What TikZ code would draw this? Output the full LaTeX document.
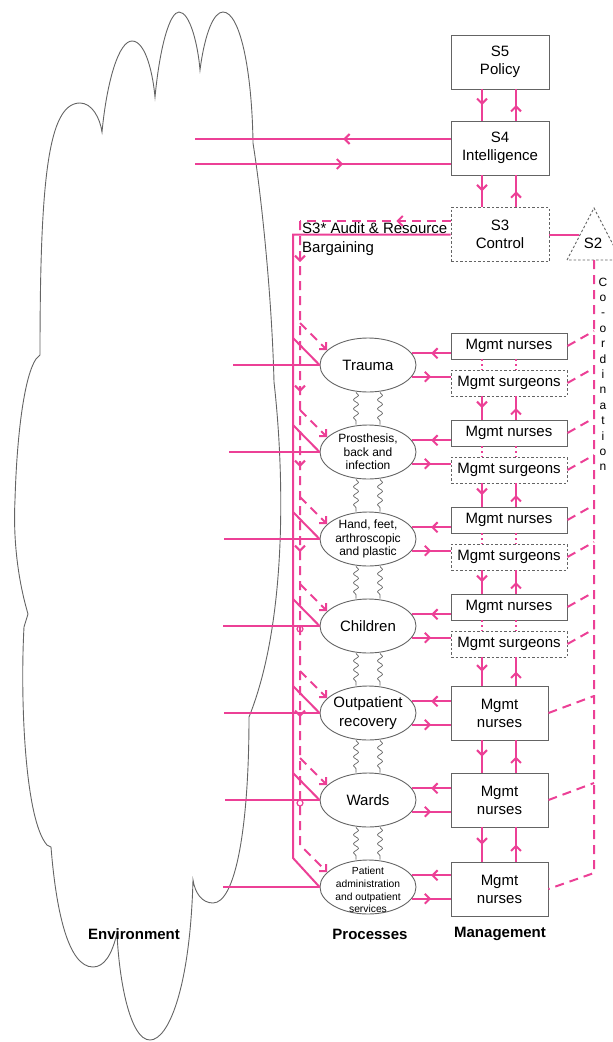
\documentclass[tikz,border=0pt]{standalone}
\usepackage{fontspec}
\setmainfont{Liberation Sans}
\usetikzlibrary{shapes.geometric,decorations.pathmorphing,decorations.markings,arrows.meta}
\definecolor{vsmpink}{RGB}{236,64,150}
\definecolor{vsmgrey}{RGB}{100,100,100}
\newcommand{\fsbig}{\fontsize{15}{18}\selectfont}
\newcommand{\fsmid}{\fontsize{12}{13.5}\selectfont}
\newcommand{\fssml}{\fontsize{10.3}{12.7}\selectfont}
\tikzset{
  >={Straight Barb[length=5pt,width=10pt]},
  sistema/.style = {rectangle, draw=vsmgrey, line width=0.9pt, minimum width=98pt, minimum height=54pt, inner sep=0, align=center, font=\fsbig},
  sistd/.style   = {sistema, dash pattern=on 2.5pt off 2pt},
  mgmt/.style    = {rectangle, draw=vsmgrey, line width=0.9pt, minimum width=116pt, minimum height=26pt, inner sep=0, font=\fsbig},
  mgmtd/.style   = {mgmt, dash pattern=on 2.5pt off 2pt},
  tri/.style     = {draw=vsmgrey, line width=0.9pt, dash pattern=on 2.5pt off 2pt},
  proc/.style    = {ellipse, draw=vsmgrey, line width=0.9pt, minimum width=96pt, minimum height=54pt, inner sep=0},
  ptxt/.style    = {align=center, inner sep=0},
  flow/.style    = {draw=vsmpink, line width=2pt},
  audit/.style   = {flow, dash pattern=on 9pt off 6pt},
  dots/.style    = {flow, dash pattern=on 2pt off 3pt},
  midarr/.style  = {postaction={decorate, decoration={markings, mark=at position #1 with {\arrow{>}}}}},
  midarr/.default = 0.5,
  downs/.style   = {postaction={decorate, decoration={markings,
      mark=at position 41pt with {\arrow{>}}, mark=at position 171pt with {\arrow{>}},
      mark=at position 246pt with {\arrow{>}}, mark=at position 331pt with {\arrow{>}},
      mark=at position 496pt with {\arrow{>}}}}},
  wavy/.style    = {draw=vsmgrey, line width=0.7pt, decorate, decoration={snake, amplitude=2.5pt, segment length=9pt}},
  cloudl/.style  = {draw=vsmgrey, line width=0.9pt},
  et/.style      = {font=\fsbig\bfseries}
}
\begin{document}
\begin{tikzpicture}[x=1pt, y=-1pt]
  \useasboundingbox (0,0) rectangle (613,1042);
  \draw[cloudl] (40,355) .. controls (40,180) and (48,103) .. (80,103)
    .. controls (92,103) and (100,118) .. (102,132)
    .. controls (107,80) and (119,41) .. (132,41)
    .. controls (146,41) and (153,75) .. (155,97)
    .. controls (160,45) and (170,12) .. (179,12)
    .. controls (190,12) and (198,45) .. (200,70)
    .. controls (205,32) and (214,12) .. (223,12)
    .. controls (240,12) and (252,70) .. (253,143)
    .. controls (262,200) and (272,300) .. (274,382)
    .. controls (284,470) and (288,620) .. (249,717)
    .. controls (249,830) and (235,903) .. (213,903)
    .. controls (202,903) and (195,893) .. (193,880)
    .. controls (190,990) and (168,1040) .. (150,1040)
    .. controls (130,1040) and (119,980) .. (117,933)
    .. controls (112,955) and (104,967) .. (93,967)
    .. controls (68,967) and (56,910) .. (51,847) -- (47,845)
    .. controls (25,820) and (20,700) .. (24,627) -- (28,614)
    .. controls (18,580) and (13,540) .. (15,500)
    .. controls (17,430) and (25,375) .. (36,359) -- cycle;
  \node[et] (envl)  at (134,934) {Environment};
  \node[et] (procl) at (370,934) {Processes};
  \node[et] (mgmtl) at (500,934) {Management};

  \node[sistema] (S5) at (500,62) {S5\\Policy};
  \node[sistema] (S4) at (500,148) {S4\\Intelligence};
  \node[sistd]   (S3) at (500,234.5) {S3\\Control};
  \draw[tri] (567,260) -- (594,208) -- (621,260) -- cycle;
  \node[font=\fsbig] (S2) at (593,243) {S2};
  \node[font=\fsbig, anchor=base west, inner sep=0] (audl) at (302,233.5) {S3* Audit \& Resource};
  \node[font=\fsbig, anchor=base west, inner sep=0] (barg) at (302,252.5) {Bargaining};
  \node[font=\fontsize{12}{15.4}\selectfont, align=center, inner sep=0, anchor=north] (crd) at (603,277.5) {C\\o\\-\\o\\r\\d\\i\\n\\a\\t\\i\\o\\n};

  \foreach \n/\y in {tr/365,pr/452,ha/539,ch/626,op/713,wa/800,pa/887}
    \node[proc] (\n) at (368,\y) {};
  \node[ptxt, font=\fsbig] (trt) at (tr) {Trauma};
  \node[ptxt, font=\fsmid] (prt) at (pr) {Prosthesis,\\back and\\infection};
  \node[ptxt, font=\fsmid] (hat) at (ha) {Hand, feet,\\arthroscopic\\and plastic};
  \node[ptxt, font=\fsbig] (cht) at (ch) {Children};
  \node[ptxt, font=\fontsize{15}{19}\selectfont] (opt) at (op) {Outpatient\\recovery};
  \node[ptxt, font=\fsbig] (wat) at (wa) {Wards};
  \node[ptxt, font=\fssml] (pat) at ([yshift=-3pt]pa) {Patient\\administration\\and outpatient\\services};

  \node[mgmt]  (trn) at (509,346) {Mgmt nurses};
  \node[mgmtd] (trs) at (509,383) {Mgmt surgeons};
  \node[mgmt]  (prn) at (509,433) {Mgmt nurses};
  \node[mgmtd] (prs) at (509,470) {Mgmt surgeons};
  \node[mgmt]  (han) at (509,520) {Mgmt nurses};
  \node[mgmtd] (has) at (509,557) {Mgmt surgeons};
  \node[mgmt]  (chn) at (509,607) {Mgmt nurses};
  \node[mgmtd] (chs) at (509,644) {Mgmt surgeons};
  \node[sistema, minimum width=97pt] (opn) at (499.5,713) {Mgmt\\nurses};
  \node[sistema, minimum width=97pt] (wan) at (499.5,800) {Mgmt\\nurses};
  \node[sistema, minimum width=97pt] (pan) at (499.5,889) {Mgmt\\nurses};

  \coordinate (cd) at (482,0);
  \coordinate (cu) at (516,0);
  \coordinate (wl) at (356,0);
  \coordinate (wr) at (380,0);
  \foreach \a/\b in {S5/S4,S4/S3,trs/prn,prs/han,has/chn,chs/opn,opn/wan,wan/pan}{
    \draw[flow,midarr] (\a.south -| cd) -- (\b.north -| cd);
    \draw[flow,midarr] (\b.north -| cu) -- (\a.south -| cu);
  }
  \foreach \a/\b in {trn/trs,prn/prs,han/has,chn/chs}{
    \draw[dots] (\a.south -| cd) -- (\b.north -| cd);
    \draw[dots] (\a.south -| cu) -- (\b.north -| cu);
  }
  \foreach \a/\b in {tr/pr,pr/ha,ha/ch,ch/op,op/wa,wa/pa}{
    \draw[wavy] (\a.south -| wl) -- (\b.north -| wl);
    \draw[wavy] (\a.south -| wr) -- (\b.north -| wr);
  }
  \foreach \n/\t/\s in {tr/trn/trs,pr/prn/prs,ha/han/has,ch/chn/chs,op/opn/opn,wa/wan/wan,pa/pan/pan}{
    \draw[flow,midarr] (\t.west |- \n.15) -- (\n.15);
    \draw[flow,midarr] (\n.-15) -- (\s.west |- \n.-15);
  }

  \coordinate (envA) at (195,139);
  \coordinate (envB) at (195,164);
  \draw[flow,midarr=0.42] ([yshift=9pt]S4.west) -- (envA);
  \draw[flow,midarr=0.58] (envB) -- ([yshift=-16pt]S4.west);

  \coordinate (busT) at (293,234.5);
  \coordinate (busB) at (293,858);
  \draw[flow] (S3.west) -- (busT) -- (busB) -- (pa.west);
  \foreach \n/\y/\x in {tr/365/233,pr/452/229,ha/539/224,ch/626/223,op/713/224,wa/800/225,pa/887/223}{
    \coordinate (e\n) at (\x,\y);
    \draw[flow] (e\n) -- (\n.west);
  }
  \draw[flow, line width=1.2pt] (300,629) circle (3);
  \draw[flow, line width=1.2pt] (300,803) circle (3);

  \coordinate (audT) at (300,221);
  \coordinate (audB) at (300,845);
  \draw[audit,midarr=0.36] ([yshift=13.5pt]S3.west) -- (audT);
  \draw[audit,downs,->] (audT) -- (audB) -- (pa.160);
  \foreach \n/\y in {tr/365,pr/452,ha/539,ch/626,op/713,wa/800}{
    \coordinate (b\n) at (293,\y-27);
    \draw[flow] (b\n) -- (\n.west);
    \coordinate (d\n) at (300,\y-42);
    \draw[audit,->] (d\n) -- (\n.160);
  }

  \coordinate (S2w) at (579,234.5);
  \coordinate (S2s) at (594,260);
  \coordinate (crdB) at (594,873);
  \draw[flow] (S3.east) -- (S2w);
  \draw[audit] (S2s) -- (crdB) -- (pan.east);
  \foreach \m/\y in {trn/331,trs/368,prn/418,prs/455,han/505,has/542,chn/592,chs/629,opn/696,wan/783}{
    \coordinate (k\m) at (594,\y);
    \draw[audit] (\m.east) -- (k\m);
  }
\end{tikzpicture}
\end{document}
